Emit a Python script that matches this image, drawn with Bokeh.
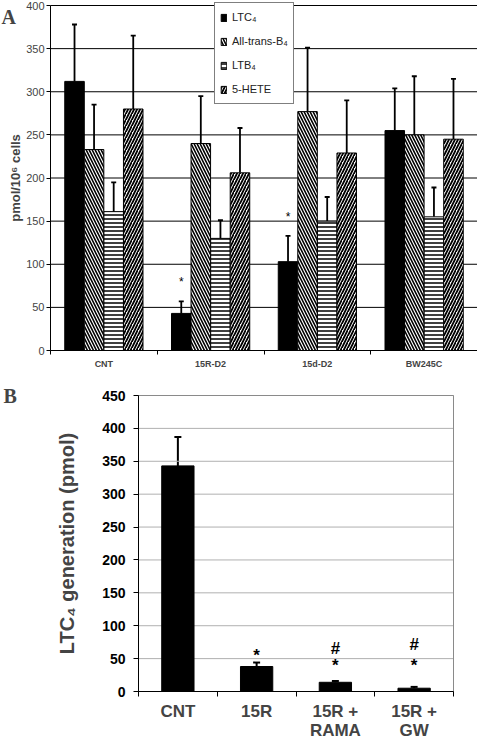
from bokeh.plotting import figure
from bokeh.models import (ColumnDataSource, FixedTicker, Whisker, TeeHead, Label,
                          Legend, LegendItem, Range1d)
from bokeh.layouts import column
from bokeh.embed import file_html
from bokeh.resources import INLINE
from bokeh.core.properties import value

# ---------------- Panel A data ----------------
categories_a = ["CNT", "15R-D2", "15d-D2", "BW245C"]
ltc4 = [312, 43, 103, 255]
ltc4_err = [378, 57, 133, 304]
all_trans_b4 = [233, 240, 277, 250]
all_trans_b4_err = [285, 295, 351, 318]
ltb4 = [161, 130, 150, 155]
ltb4_err = [195, 151, 178, 189]
hete5 = [280, 206, 229, 245]
hete5_err = [365, 258, 290, 315]
series_a = ["LTC\u2084", "All-trans-B\u2084", "LTB\u2084", "5-HETE"]
sig_a = ["", "*", "*", ""]
y_ticks_a = [0, 50, 100, 150, 200, 250, 300, 350, 400]

# ---------------- Panel B data ----------------
categories_b = ["CNT", "15R", "15R +\nRAMA", "15R +\nGW"]
ltc4_gen = [343, 38, 14, 5]
ltc4_gen_err = [387, 44, 16, 7]
star_b = ["", "*", "*", "*"]
star_b_y = [0, 55, 40, 40]
hash_b = ["", "", "#", "#"]
hash_b_y = [0, 0, 66, 72]
y_ticks_b = [0, 50, 100, 150, 200, 250, 300, 350, 400, 450]

FONT = "Liberation Sans"


def span(v0, v1, px0, px1, total):
    """Range whose values v0/v1 land at pixel px0/px1 of a frame of size total."""
    unit = (px1 - px0) / (v1 - v0)
    return Range1d(v0 - px0 / unit, v1 + (total - px1) / unit)


# ================= Panel A =================
nA = len(categories_a)
WA, HA = 477, 372
pA = figure(width=WA, height=HA,
            x_range=span(0, nA, 50, 477, WA),
            y_range=span(0, y_ticks_a[-1], 22, 367, HA),
            output_backend="svg", toolbar_location=None,
            min_border_left=0, min_border_right=0, min_border_top=0,
            min_border_bottom=0)
pA.frame_align = False
pA.outline_line_color = None
pA.grid.visible = False
pA.segment(x0=0, x1=nA, y0=y_ticks_a, y1=y_ticks_a, line_color="black", line_width=1)

series_vals = [ltc4, all_trans_b4, ltb4, hete5]
series_errs = [ltc4_err, all_trans_b4_err, ltb4_err, hete5_err]
offsets = [-0.275, -0.092, 0.092, 0.275]
styles = [
    dict(fill_color="black", hatch_pattern=None),
    dict(fill_color="white", hatch_pattern="left_diagonal_line", hatch_scale=6, hatch_weight=1.6),
    dict(fill_color="white", hatch_pattern="horizontal_line", hatch_scale=4, hatch_weight=1.5),
    dict(fill_color="white", hatch_pattern="right_diagonal_line", hatch_scale=6, hatch_weight=1.8),
]
legend_items = []
for vals, errs, off, st, name in zip(series_vals, series_errs, offsets, styles, series_a):
    xs = [i + 0.5 + off for i in range(nA)]
    src = ColumnDataSource(dict(x=xs, top=vals, err=errs))
    kw = dict(st)
    hp = kw.pop("hatch_pattern")
    if hp is not None:
        kw["hatch_pattern"] = hp
        kw["hatch_color"] = "black"
    r = pA.vbar(x="x", top="top", width=0.183, source=src, line_color="black",
                line_width=1, **kw)
    w = Whisker(source=src, base="x", lower="top", upper="err",
                line_color="black", line_width=1.8,
                upper_head=TeeHead(size=5, line_width=1.8, line_color="black"),
                lower_head=None)
    pA.add_layout(w)
    legend_items.append(LegendItem(label=name, renderers=[r]))

xs_star = [i + 0.5 + offsets[0] for i in range(nA)]
star_y_a = [e + 22 for e in ltc4_err]
pA.text(x=xs_star, y=star_y_a, text=sig_a, text_align="center", text_baseline="middle",
        text_font=value(FONT), text_font_size="12px", text_color="black")

legend = Legend(items=legend_items, location=(214, 268))
legend.label_text_font = FONT
legend.label_text_font_size = "11px"
legend.label_text_color = "#222222"
legend.glyph_width = 7
legend.glyph_height = 9
legend.label_standoff = 5
legend.label_height = 18
legend.spacing = 6
legend.padding = 5
legend.margin = 0
legend.border_line_color = "black"
legend.border_line_width = 1
legend.background_fill_color = "white"
legend.background_fill_alpha = 1
pA.add_layout(legend)

ya = pA.yaxis[0]
ya.fixed_location = 0
ya.bounds = (0, y_ticks_a[-1])
ya.ticker = FixedTicker(ticks=y_ticks_a)
ya.axis_line_color = "black"
ya.major_tick_out = 4
ya.major_tick_in = 0
ya.minor_tick_out = 0
ya.minor_tick_in = 0
ya.major_label_text_font = FONT
ya.major_label_text_font_size = "11px"
ya.major_label_text_color = "#444444"
ya.major_label_standoff = 2
ya.axis_label = "pmol/10\u2076 cells"
ya.axis_label_text_font = FONT
ya.axis_label_text_font_style = "bold"
ya.axis_label_text_font_size = "13px"
ya.axis_label_standoff = 0

xa = pA.xaxis[0]
xa.fixed_location = 0
xa.bounds = (0, nA)
xa.ticker = FixedTicker(ticks=[i + 0.5 for i in range(nA)],
                        minor_ticks=list(range(nA + 1)))
xa.major_label_overrides = {i + 0.5: c for i, c in enumerate(categories_a)}
xa.axis_line_color = "black"
xa.major_tick_out = 0
xa.major_tick_in = 0
xa.minor_tick_out = 4
xa.minor_tick_in = 0
xa.major_label_text_font = FONT
xa.major_label_text_font_style = "bold"
xa.major_label_text_font_size = "9px"
xa.major_label_standoff = 4

pA.add_layout(Label(x=1, y=y_ticks_a[-1], x_units="screen", y_units="data", text="A",
                    text_font="Liberation Serif", text_font_style="bold",
                    text_font_size="20px", text_baseline="top", text_align="left"))

# ================= Panel B =================
nB = len(categories_b)
WB, HB = 477, 372
pB = figure(width=WB, height=HB,
            x_range=span(0, nB, 138, 453, WB),
            y_range=span(0, y_ticks_b[-1], 53, 349, HB),
            output_backend="svg", toolbar_location=None,
            min_border_left=0, min_border_right=0, min_border_top=0,
            min_border_bottom=0)
pB.frame_align = False
pB.outline_line_color = None
pB.grid.visible = False
pB.segment(x0=0, x1=nB, y0=y_ticks_b, y1=y_ticks_b, line_color="#b0b0b0", line_width=1)
pB.quad(left=0, right=nB, bottom=0, top=y_ticks_b[-1], fill_color=None,
        line_color="#8a8a8a", line_width=1)

xb = [i + 0.5 for i in range(nB)]
srcB = ColumnDataSource(dict(x=xb, top=ltc4_gen, err=ltc4_gen_err))
pB.vbar(x="x", top="top", width=0.41, source=srcB, fill_color="black", line_color="black")
pB.add_layout(Whisker(source=srcB, base="x", lower="top", upper="err",
                      line_color="black", line_width=2,
                      upper_head=TeeHead(size=7, line_width=2, line_color="black"),
                      lower_head=None))
pB.text(x=xb, y=star_b_y, text=star_b, text_align="center", text_baseline="middle",
        text_font=value(FONT), text_font_style="bold", text_font_size="17px",
        text_color="black")
pB.text(x=xb, y=hash_b_y, text=hash_b, text_align="center", text_baseline="middle",
        text_font=value(FONT), text_font_style="bold", text_font_size="17px",
        text_color="black")

yb = pB.yaxis[0]
yb.fixed_location = 0
yb.bounds = (0, y_ticks_b[-1])
yb.ticker = FixedTicker(ticks=y_ticks_b)
yb.axis_line_color = "black"
yb.major_tick_out = 5
yb.major_tick_in = 0
yb.minor_tick_out = 0
yb.minor_tick_in = 0
yb.major_label_text_font = FONT
yb.major_label_text_font_style = "bold"
yb.major_label_text_font_size = "14px"
yb.major_label_text_color = "black"
yb.major_label_standoff = 8
yb.axis_label = "LTC\u2084 generation (pmol)"
yb.axis_label_text_font = FONT
yb.axis_label_text_font_style = "bold"
yb.axis_label_text_font_size = "20px"
yb.axis_label_standoff = 21

xbx = pB.xaxis[0]
xbx.fixed_location = 0
xbx.bounds = (0, nB)
xbx.ticker = FixedTicker(ticks=xb, minor_ticks=list(range(nB + 1)))
xbx.major_label_overrides = {i + 0.5: c for i, c in enumerate(categories_b)}
xbx.axis_line_color = "black"
xbx.major_tick_out = 0
xbx.major_tick_in = 0
xbx.minor_tick_out = 5
xbx.minor_tick_in = 0
xbx.major_label_text_font = FONT
xbx.major_label_text_font_style = "bold"
xbx.major_label_text_font_size = "17px"
xbx.major_label_text_line_height = 1.05
xbx.major_label_standoff = 5

pB.add_layout(Label(x=3, y=y_ticks_b[-1], x_units="screen", y_units="data", text="B",
                    text_font="Liberation Serif", text_font_style="bold",
                    text_font_size="20px", text_baseline="middle", text_align="left"))

layout = column(pA, pB)
open("out.html", "w").write(file_html(layout, INLINE))
